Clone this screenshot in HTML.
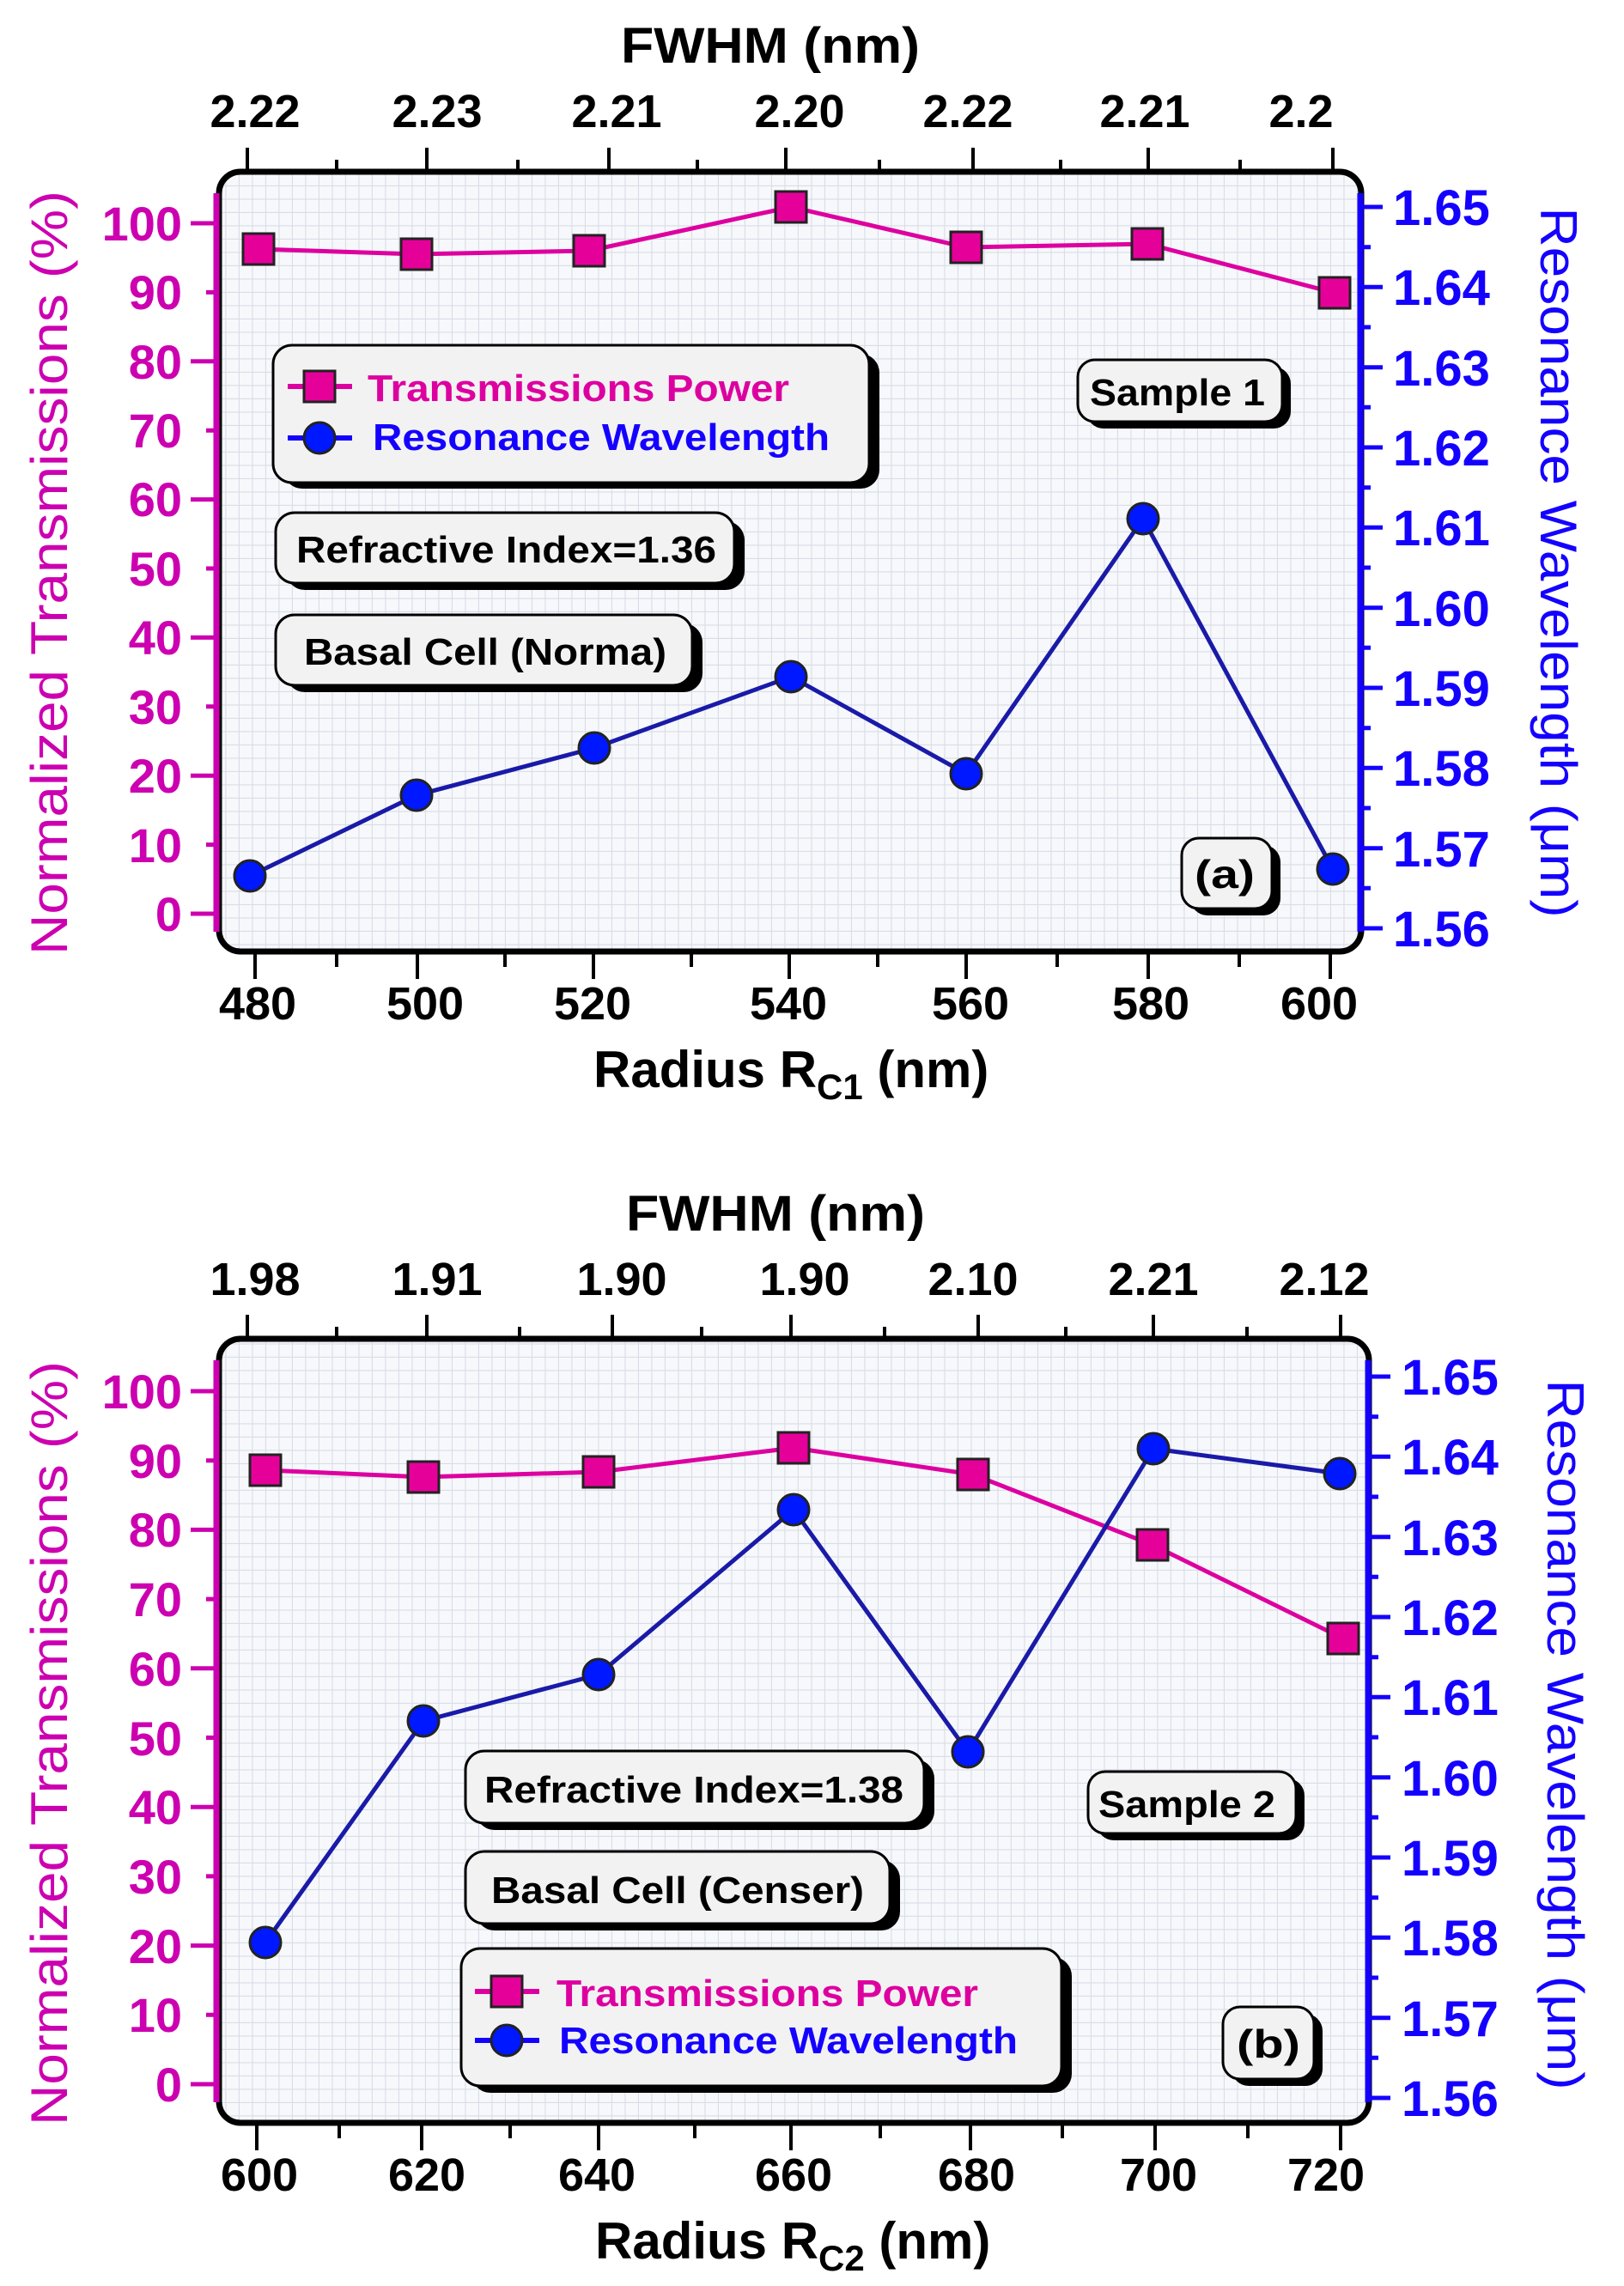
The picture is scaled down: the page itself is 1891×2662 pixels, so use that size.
<!DOCTYPE html>
<html><head><meta charset="utf-8"><style>
html,body{margin:0;padding:0;background:#fff;}
svg{display:block;}
text{font-family:"Liberation Sans",Arial,sans-serif;}
</style></head><body>
<svg width="1891" height="2662" viewBox="0 0 1891 2662" xmlns="http://www.w3.org/2000/svg">
<defs>
<pattern id="g" width="15.5" height="15.5" patternUnits="userSpaceOnUse">
<rect width="15.5" height="15.5" fill="#f6f8fb"/>
<path d="M15.5 0V15.5M0 15.5H15.5" stroke="#d9dde5" stroke-width="2.2"/>
</pattern>
</defs>

<!-- ================= PLOT A ================= -->
<rect x="255" y="200" width="1330" height="908" rx="25" fill="url(#g)" stroke="#000" stroke-width="7"/>
<line x1="252" y1="225" x2="252" y2="1085" stroke="#cc00b0" stroke-width="7"/>
<line x1="1584" y1="225" x2="1584" y2="1085" stroke="#1400ff" stroke-width="7"/>

<g stroke="#cc00b0" stroke-width="5">
<path d="M222 1064H252M240 983.6H252M222 903.2H252M240 822.8H252M222 742.4H252M240 662H252M222 581.6H252M240 501.2H252M222 420.8H252M240 340.4H252M222 260H252"/>
</g>
<g fill="#cc00b0" font-weight="bold" font-size="56" text-anchor="end">
<text x="212" y="1084">0</text><text x="212" y="1004">10</text><text x="212" y="923">20</text><text x="212" y="843">30</text><text x="212" y="762">40</text><text x="212" y="682">50</text><text x="212" y="601">60</text><text x="212" y="521">70</text><text x="212" y="441">80</text><text x="212" y="360">90</text><text x="212" y="280">100</text>
</g>
<text transform="translate(78,667) rotate(-90)" text-anchor="middle" font-size="60" fill="#cc00b0" textLength="890" lengthAdjust="spacingAndGlyphs">Normalized Transmissions (%)</text>

<g stroke="#1400ff" stroke-width="5">
<path d="M1584 1081H1610M1584 987.7H1610M1584 894.3H1610M1584 801H1610M1584 707.7H1610M1584 614.3H1610M1584 521H1610M1584 427.7H1610M1584 334.3H1610M1584 241H1610"/>
<path d="M1584 1034.3H1596M1584 941H1596M1584 847.7H1596M1584 754.3H1596M1584 661H1596M1584 567.7H1596M1584 474.3H1596M1584 381H1596M1584 287.7H1596"/>
</g>
<g fill="#1400ff" font-weight="bold" font-size="58">
<text x="1622" y="1102">1.56</text><text x="1622" y="1009">1.57</text><text x="1622" y="915">1.58</text><text x="1622" y="822">1.59</text><text x="1622" y="729">1.60</text><text x="1622" y="635">1.61</text><text x="1622" y="542">1.62</text><text x="1622" y="449">1.63</text><text x="1622" y="355">1.64</text><text x="1622" y="262">1.65</text>
</g>
<text transform="translate(1794,655) rotate(90)" text-anchor="middle" font-size="60" fill="#1400ff" textLength="827" lengthAdjust="spacingAndGlyphs">Resonance Wavelength (μm)</text>

<g stroke="#000" stroke-width="4">
<path d="M297 1108V1140M486 1108V1140M691 1108V1140M919 1108V1140M1125 1108V1140M1337 1108V1140M1549 1108V1140"/>
<path d="M392 1108V1126M588 1108V1126M805 1108V1126M1022 1108V1126M1231 1108V1126M1443 1108V1126"/>
<path d="M288 200V172M497 200V172M709 200V172M915 200V172M1133 200V172M1337 200V172M1552 200V172"/>
<path d="M392 200V186M603 200V186M812 200V186M1024 200V186M1235 200V186M1444 200V186"/>
</g>
<g font-weight="bold" font-size="54" text-anchor="middle" fill="#000">
<text x="300" y="1187">480</text><text x="495" y="1187">500</text><text x="690" y="1187">520</text><text x="918" y="1187">540</text><text x="1130" y="1187">560</text><text x="1340" y="1187">580</text><text x="1536" y="1187">600</text>
<text x="297" y="148">2.22</text><text x="509" y="148">2.23</text><text x="718" y="148">2.21</text><text x="931" y="148">2.20</text><text x="1127" y="148">2.22</text><text x="1333" y="148">2.21</text><text x="1515" y="148">2.2</text>
</g>
<text x="897" y="73" font-weight="bold" font-size="58" text-anchor="middle" textLength="348" lengthAdjust="spacingAndGlyphs">FWHM (nm)</text>
<text x="691" y="1266" font-weight="bold" font-size="60">Radius R<tspan font-size="42" dy="14">C1</tspan><tspan dy="-14"> (nm)</tspan></text>

<polyline points="301,290 485,296 686,292 921,241 1125,288 1336,284 1554,341" fill="none" stroke="#dd00a0" stroke-width="5"/>
<polyline points="291,1020 485,926 692,871 921,788 1125,901 1331,604 1552,1012" fill="none" stroke="#1a1aa8" stroke-width="5"/>
<g fill="#e6009a" stroke="#222" stroke-width="3">
<rect x="283" y="272" width="36" height="36"/><rect x="467" y="278" width="36" height="36"/><rect x="668" y="274" width="36" height="36"/><rect x="903" y="223" width="36" height="36"/><rect x="1107" y="270" width="36" height="36"/><rect x="1318" y="266" width="36" height="36"/><rect x="1536" y="323" width="36" height="36"/>
</g>
<g fill="#0018ff" stroke="#222" stroke-width="3">
<circle cx="291" cy="1020" r="18"/><circle cx="485" cy="926" r="18"/><circle cx="692" cy="871" r="18"/><circle cx="921" cy="788" r="18"/><circle cx="1125" cy="901" r="18"/><circle cx="1331" cy="604" r="18"/><circle cx="1552" cy="1012" r="18"/>
</g>

<g>
<rect x="330" y="412" width="694" height="157" rx="22" fill="#000"/>
<rect x="318" y="402" width="694" height="160" rx="22" fill="#f2f2f2" stroke="#000" stroke-width="3"/>
<line x1="335" y1="450" x2="410" y2="450" stroke="#dd00a0" stroke-width="6"/>
<rect x="354" y="432" width="36" height="36" fill="#e6009a" stroke="#222" stroke-width="3"/>
<text x="428" y="467" font-weight="bold" font-size="44" fill="#dd00a0" textLength="491" lengthAdjust="spacingAndGlyphs">Transmissions Power</text>
<line x1="335" y1="510" x2="410" y2="510" stroke="#1400ff" stroke-width="6"/>
<circle cx="372" cy="510" r="18" fill="#0018ff" stroke="#222" stroke-width="3"/>
<text x="434" y="524" font-weight="bold" font-size="44" fill="#1400ff" textLength="532" lengthAdjust="spacingAndGlyphs">Resonance Wavelength</text>

<rect x="333" y="607" width="534" height="80" rx="22" fill="#000"/>
<rect x="321" y="597" width="534" height="82" rx="22" fill="#f2f2f2" stroke="#000" stroke-width="3"/>
<text x="345" y="655" font-weight="bold" font-size="44" textLength="489" lengthAdjust="spacingAndGlyphs">Refractive Index=1.36</text>

<rect x="333" y="726" width="485" height="80" rx="22" fill="#000"/>
<rect x="321" y="716" width="485" height="82" rx="22" fill="#f2f2f2" stroke="#000" stroke-width="3"/>
<text x="354" y="774" font-weight="bold" font-size="44" textLength="422" lengthAdjust="spacingAndGlyphs">Basal Cell (Norma)</text>

<rect x="1265" y="427" width="238" height="72" rx="20" fill="#000"/>
<rect x="1255" y="419" width="238" height="72" rx="20" fill="#f2f2f2" stroke="#000" stroke-width="3"/>
<text x="1269" y="472" font-weight="bold" font-size="44" textLength="204" lengthAdjust="spacingAndGlyphs">Sample 1</text>

<rect x="1386" y="984" width="105" height="82" rx="20" fill="#000"/>
<rect x="1376" y="976" width="105" height="82" rx="20" fill="#f2f2f2" stroke="#000" stroke-width="3"/>
<text x="1391" y="1034" font-weight="bold" font-size="46" textLength="70" lengthAdjust="spacingAndGlyphs">(a)</text>
</g>

<!-- ================= PLOT B ================= -->
<rect x="255" y="1559" width="1339" height="913" rx="25" fill="url(#g)" stroke="#000" stroke-width="7"/>
<line x1="252" y1="1584" x2="252" y2="2448" stroke="#cc00b0" stroke-width="7"/>
<line x1="1593" y1="1584" x2="1593" y2="2448" stroke="#1400ff" stroke-width="7"/>

<g stroke="#cc00b0" stroke-width="5">
<path d="M222 2427H252M240 2346.3H252M222 2265.6H252M240 2184.9H252M222 2104.2H252M240 2023.5H252M222 1942.8H252M240 1862.1H252M222 1781.4H252M240 1700.7H252M222 1620H252"/>
</g>
<g fill="#cc00b0" font-weight="bold" font-size="56" text-anchor="end">
<text x="212" y="2447">0</text><text x="212" y="2366">10</text><text x="212" y="2286">20</text><text x="212" y="2205">30</text><text x="212" y="2124">40</text><text x="212" y="2044">50</text><text x="212" y="1963">60</text><text x="212" y="1882">70</text><text x="212" y="1801">80</text><text x="212" y="1721">90</text><text x="212" y="1640">100</text>
</g>
<text transform="translate(78,2030) rotate(-90)" text-anchor="middle" font-size="60" fill="#cc00b0" textLength="890" lengthAdjust="spacingAndGlyphs">Normalized Transmissions (%)</text>

<g stroke="#1400ff" stroke-width="5">
<path d="M1593 2443H1619M1593 2349.7H1619M1593 2256.3H1619M1593 2163H1619M1593 2069.7H1619M1593 1976.3H1619M1593 1883H1619M1593 1789.7H1619M1593 1696.3H1619M1593 1603H1619"/>
<path d="M1593 2396.3H1605M1593 2303H1605M1593 2209.7H1605M1593 2116.3H1605M1593 2023H1605M1593 1929.7H1605M1593 1836.3H1605M1593 1743H1605M1593 1649.7H1605"/>
</g>
<g fill="#1400ff" font-weight="bold" font-size="58">
<text x="1632" y="2464">1.56</text><text x="1632" y="2371">1.57</text><text x="1632" y="2277">1.58</text><text x="1632" y="2184">1.59</text><text x="1632" y="2091">1.60</text><text x="1632" y="1997">1.61</text><text x="1632" y="1904">1.62</text><text x="1632" y="1811">1.63</text><text x="1632" y="1717">1.64</text><text x="1632" y="1624">1.65</text>
</g>
<text transform="translate(1802,2020) rotate(90)" text-anchor="middle" font-size="60" fill="#1400ff" textLength="827" lengthAdjust="spacingAndGlyphs">Resonance Wavelength (μm)</text>

<g stroke="#000" stroke-width="4">
<path d="M299 2472V2504M491 2472V2504M697 2472V2504M921 2472V2504M1130 2472V2504M1345 2472V2504M1561 2472V2504"/>
<path d="M395 2472V2490M594 2472V2490M809 2472V2490M1025 2472V2490M1237 2472V2490M1453 2472V2490"/>
<path d="M288 1559V1531M497 1559V1531M713 1559V1531M921 1559V1531M1139 1559V1531M1343 1559V1531M1561 1559V1531"/>
<path d="M392 1559V1545M605 1559V1545M817 1559V1545M1030 1559V1545M1241 1559V1545M1452 1559V1545"/>
</g>
<g font-weight="bold" font-size="54" text-anchor="middle" fill="#000">
<text x="302" y="2551">600</text><text x="497" y="2551">620</text><text x="695" y="2551">640</text><text x="924" y="2551">660</text><text x="1137" y="2551">680</text><text x="1349" y="2551">700</text><text x="1544" y="2551">720</text>
<text x="297" y="1508">1.98</text><text x="509" y="1508">1.91</text><text x="724" y="1508">1.90</text><text x="937" y="1508">1.90</text><text x="1133" y="1508">2.10</text><text x="1343" y="1508">2.21</text><text x="1542" y="1508">2.12</text>
</g>
<text x="903" y="1433" font-weight="bold" font-size="58" text-anchor="middle" textLength="348" lengthAdjust="spacingAndGlyphs">FWHM (nm)</text>
<text x="693" y="2630" font-weight="bold" font-size="60">Radius R<tspan font-size="42" dy="14">C2</tspan><tspan dy="-14"> (nm)</tspan></text>

<polyline points="309,1712 493,1720 697,1714 924,1686 1133,1717 1342,1799 1564,1908" fill="none" stroke="#dd00a0" stroke-width="5"/>
<polyline points="309,2262 493,2004 697,1950 924,1758 1127,2040 1343,1687 1560,1716" fill="none" stroke="#1a1aa8" stroke-width="5"/>
<g fill="#e6009a" stroke="#222" stroke-width="3">
<rect x="291" y="1694" width="36" height="36"/><rect x="475" y="1702" width="36" height="36"/><rect x="679" y="1696" width="36" height="36"/><rect x="906" y="1668" width="36" height="36"/><rect x="1115" y="1699" width="36" height="36"/><rect x="1324" y="1781" width="36" height="36"/><rect x="1546" y="1890" width="36" height="36"/>
</g>
<g fill="#0018ff" stroke="#222" stroke-width="3">
<circle cx="309" cy="2262" r="18"/><circle cx="493" cy="2004" r="18"/><circle cx="697" cy="1950" r="18"/><circle cx="924" cy="1758" r="18"/><circle cx="1127" cy="2040" r="18"/><circle cx="1343" cy="1687" r="18"/><circle cx="1560" cy="1716" r="18"/>
</g>

<g>
<rect x="554" y="2049" width="534" height="82" rx="22" fill="#000"/>
<rect x="542" y="2039" width="534" height="84" rx="22" fill="#f2f2f2" stroke="#000" stroke-width="3"/>
<text x="564" y="2099" font-weight="bold" font-size="44" textLength="488" lengthAdjust="spacingAndGlyphs">Refractive Index=1.38</text>

<rect x="554" y="2166" width="494" height="82" rx="22" fill="#000"/>
<rect x="542" y="2156" width="494" height="84" rx="22" fill="#f2f2f2" stroke="#000" stroke-width="3"/>
<text x="572" y="2216" font-weight="bold" font-size="44" textLength="434" lengthAdjust="spacingAndGlyphs">Basal Cell (Censer)</text>

<rect x="1277" y="2071" width="242" height="72" rx="20" fill="#000"/>
<rect x="1267" y="2063" width="242" height="72" rx="20" fill="#f2f2f2" stroke="#000" stroke-width="3"/>
<text x="1279" y="2116" font-weight="bold" font-size="44" textLength="206" lengthAdjust="spacingAndGlyphs">Sample 2</text>

<rect x="549" y="2279" width="699" height="158" rx="22" fill="#000"/>
<rect x="537" y="2269" width="699" height="160" rx="22" fill="#f2f2f2" stroke="#000" stroke-width="3"/>
<line x1="553" y1="2319" x2="628" y2="2319" stroke="#dd00a0" stroke-width="6"/>
<rect x="572" y="2301" width="36" height="36" fill="#e6009a" stroke="#222" stroke-width="3"/>
<text x="648" y="2336" font-weight="bold" font-size="44" fill="#dd00a0" textLength="491" lengthAdjust="spacingAndGlyphs">Transmissions Power</text>
<line x1="553" y1="2376" x2="628" y2="2376" stroke="#1400ff" stroke-width="6"/>
<circle cx="590" cy="2376" r="18" fill="#0018ff" stroke="#222" stroke-width="3"/>
<text x="651" y="2391" font-weight="bold" font-size="44" fill="#1400ff" textLength="534" lengthAdjust="spacingAndGlyphs">Resonance Wavelength</text>

<rect x="1434" y="2345" width="106" height="84" rx="20" fill="#000"/>
<rect x="1424" y="2337" width="106" height="84" rx="20" fill="#f2f2f2" stroke="#000" stroke-width="3"/>
<text x="1440" y="2396" font-weight="bold" font-size="46" textLength="74" lengthAdjust="spacingAndGlyphs">(b)</text>
</g>
</svg>
</body></html>
